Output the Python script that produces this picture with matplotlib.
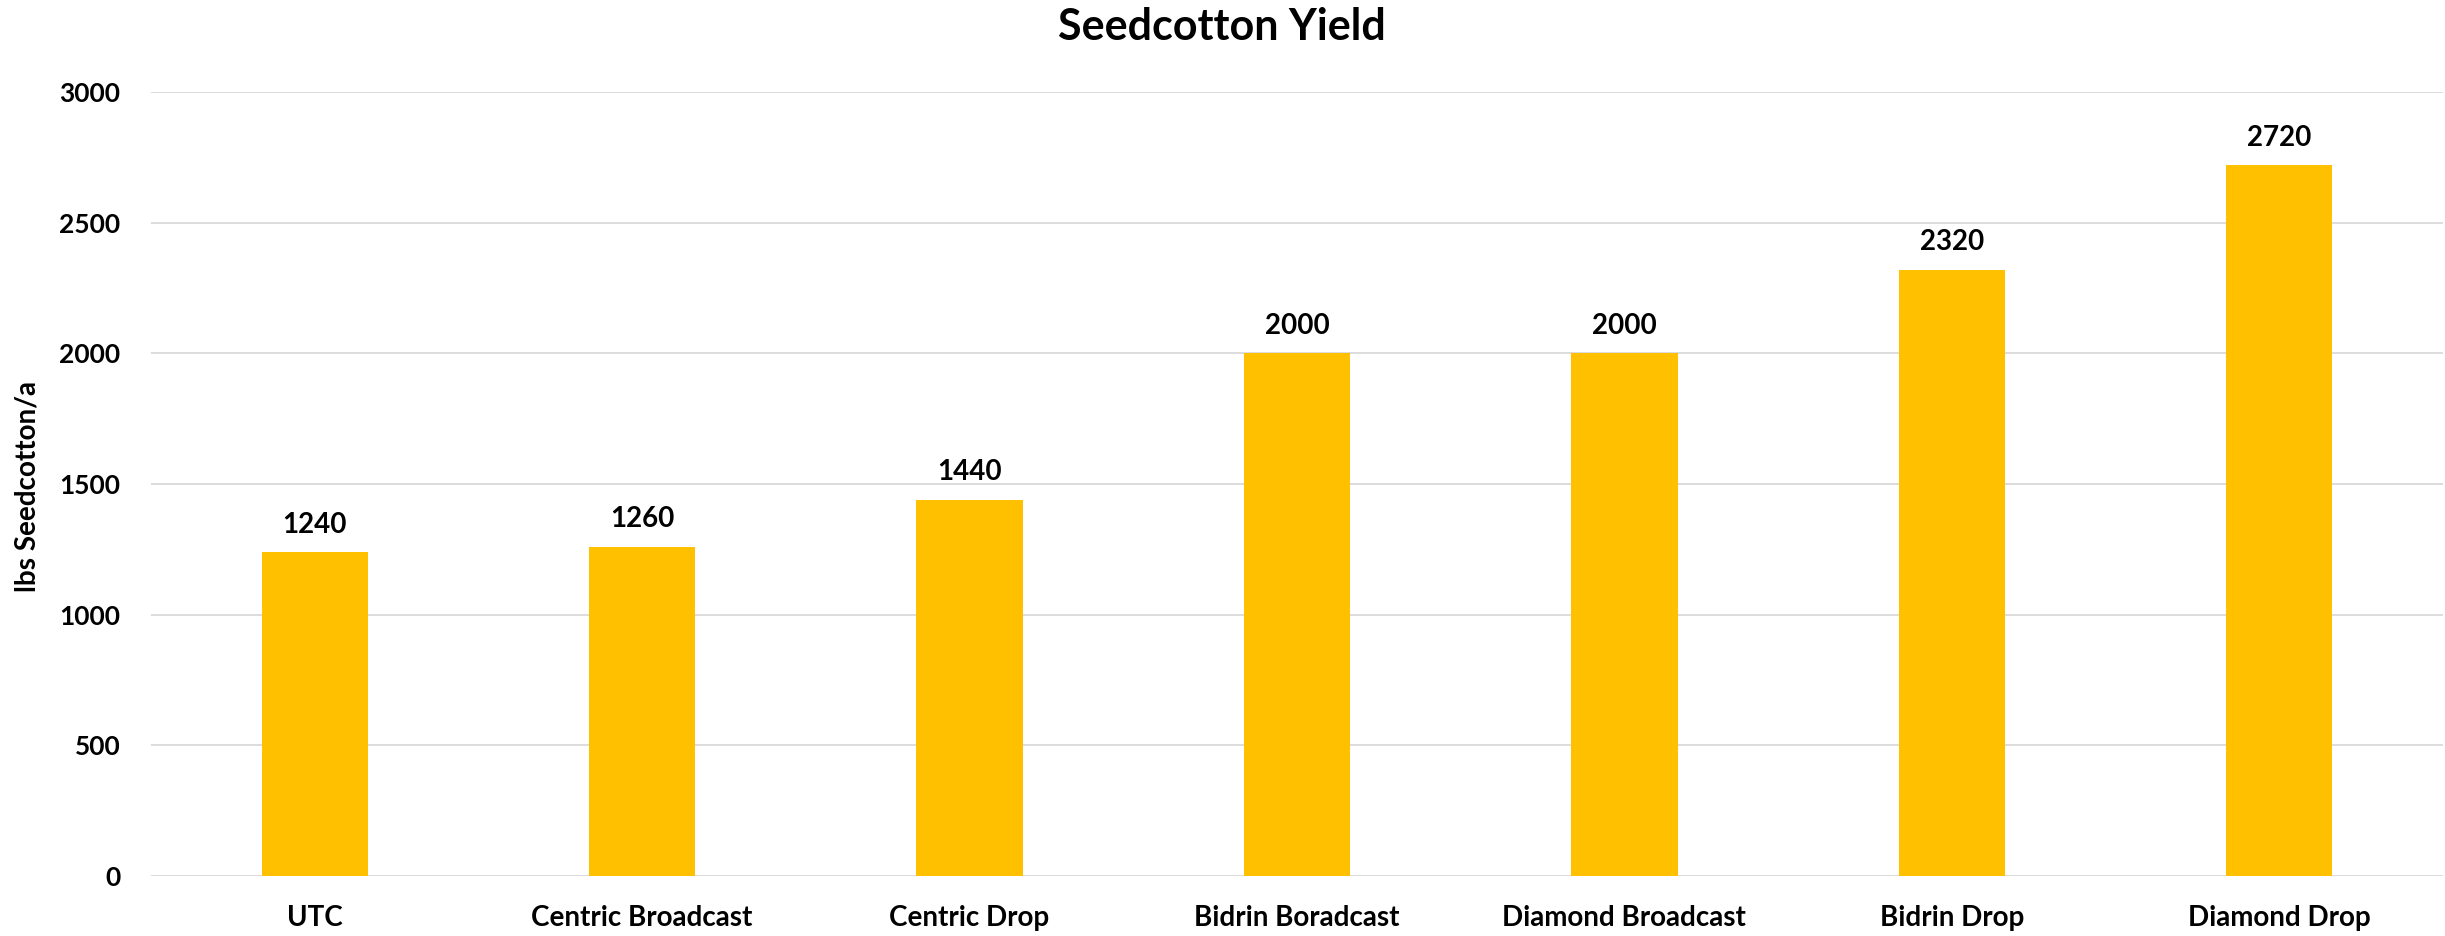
import matplotlib
matplotlib.use("Agg")
import matplotlib.pyplot as plt

# treatments and yields (lbs seedcotton per acre)
treatments = ["UTC", "Centric Broadcast", "Centric Drop", "Bidrin Boradcast",
              "Diamond Broadcast", "Bidrin Drop", "Diamond Drop"]
yields = [1240, 1260, 1440, 2000, 2000, 2320, 2720]
yticks = [0, 500, 1000, 1500, 2000, 2500, 3000]

plt.rcParams['font.family'] = ['Lato', 'DejaVu Sans']
plt.rcParams['font.weight'] = 'bold'

W, H = 2445, 936
fig = plt.figure(figsize=(W / 100, H / 100), dpi=100)
ax = fig.add_axes([151 / W, 1 - 876 / H, (2443 - 151) / W, (876 - 92) / H])

x = range(len(treatments))
ax.bar(x, yields, width=0.325, color='#FFC000', zorder=3)

# value labels above bars
for xi, v in zip(x, yields):
    ax.annotate(str(v), (xi, v), xytext=(0, 14), textcoords='offset points',
                ha='center', va='baseline', fontsize=20, fontweight='bold')

ax.set_xlim(-0.5, len(treatments) - 0.5)
ax.set_ylim(0, 3000)
ax.set_yticks(yticks)
ax.set_xticks(list(x))
ax.set_xticklabels(treatments, fontsize=20, fontweight='bold')
ax.set_yticklabels([str(t) for t in yticks], fontsize=19, fontweight='bold')
ax.tick_params(axis='both', length=0)
ax.tick_params(axis='y', pad=22)
ax.tick_params(axis='x', pad=21)
ax.grid(axis='y', color='#D9D9D9', linewidth=1.3, zorder=0)
for s in ax.spines.values():
    s.set_visible(False)

fig.text(1222 / W, 1 - 27 / H, "Seedcotton Yield", ha='center', va='center',
         fontsize=31, fontweight='bold')
fig.text(28 / W, 1 - 486 / H, "lbs Seedcotton/a", rotation=90, ha='center',
         va='center', fontsize=20, fontweight='bold')

fig.savefig("out.png", dpi=100)
